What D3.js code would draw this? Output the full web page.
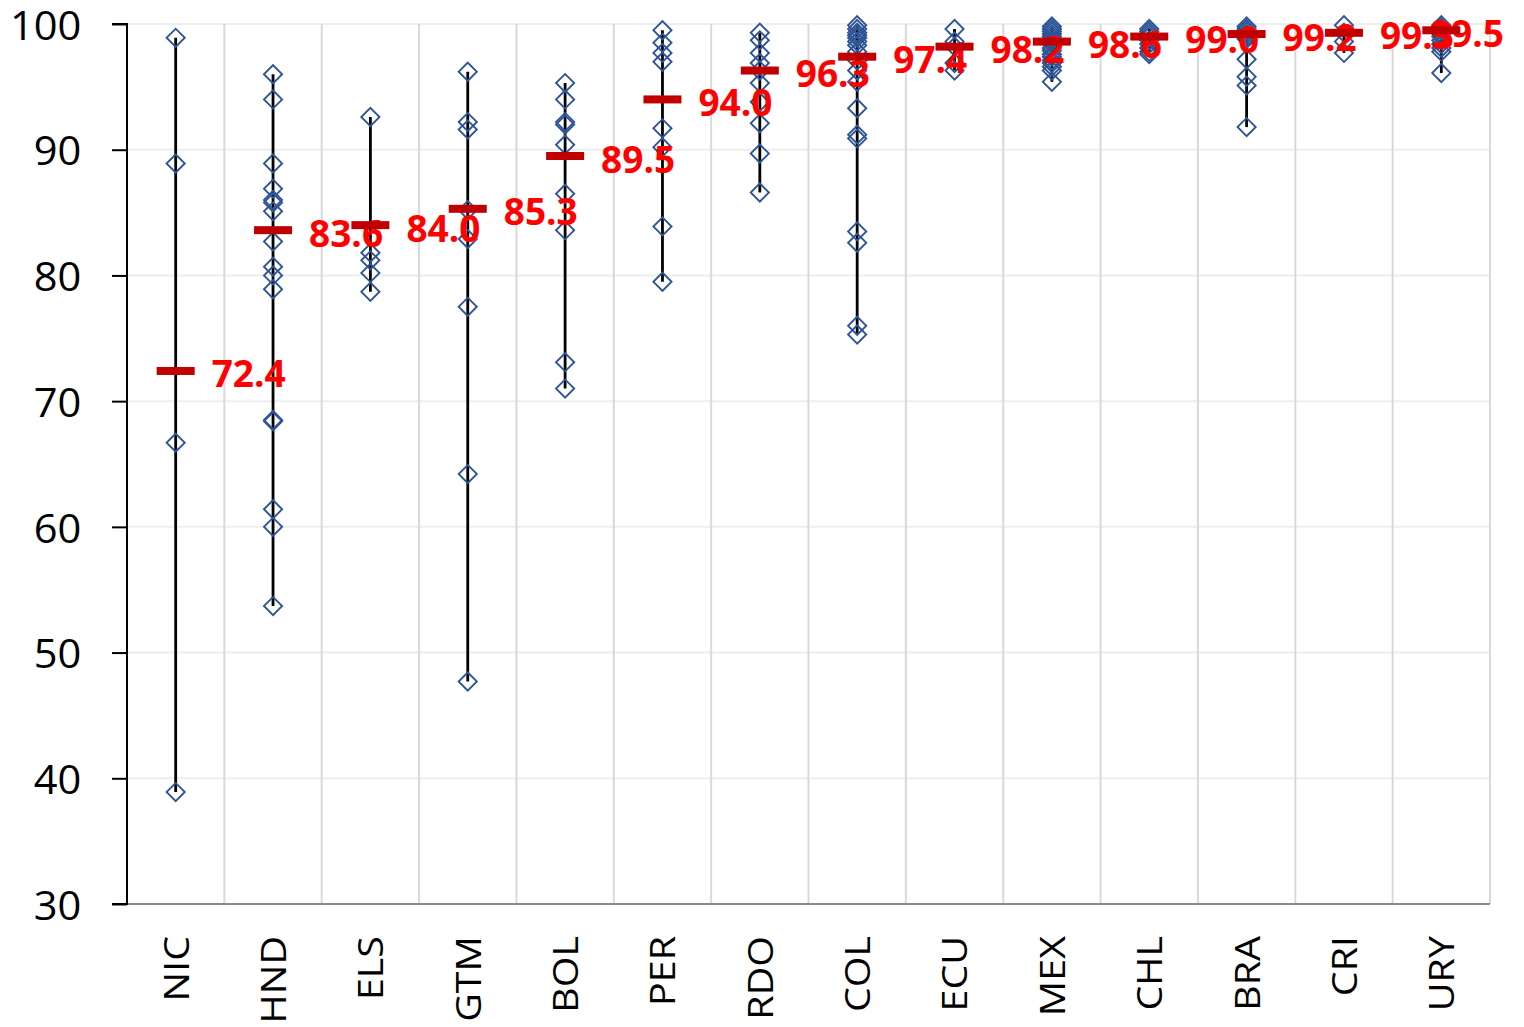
<!DOCTYPE html>
<html>
<head>
<meta charset="utf-8">
<script src="https://cdn.jsdelivr.net/npm/d3@7"></script>
<style>
  html, body { margin: 0; padding: 0; background: #fff; }
  svg { display: block; }
</style>
</head>
<body>
<svg id="chart" width="1524" height="1027"></svg>
<script>
const categories = ["NIC","HND","ELS","GTM","BOL","PER","RDO","COL","ECU","MEX","CHL","BRA","CRI","URY"];
const means = [72.4, 83.6, 84.0, 85.3, 89.5, 94.0, 96.3, 97.4, 98.2, 98.6, 99.0, 99.2, 99.3, 99.5];
const yTicks = [30, 40, 50, 60, 70, 80, 90, 100];

const nicValues = [98.9, 88.9, 66.7, 38.9];
const hndValues = [96.0, 94.0, 88.9, 86.9, 86.0, 85.8, 85.1, 82.7, 80.7, 80.0, 78.9, 68.5, 68.4, 61.4, 60.0, 53.7];
const elsValues = [92.6, 81.8, 81.2, 80.2, 78.7];
const gtmValues = [96.2, 92.2, 91.6, 85.2, 82.9, 77.5, 64.2, 47.7];
const bolValues = [95.3, 94.0, 92.2, 92.0, 90.4, 86.5, 83.6, 73.1, 71.0];
const perValues = [99.5, 98.5, 97.7, 97.0, 91.7, 90.2, 83.9, 79.5];
const rdoValues = [99.3, 98.7, 97.7, 96.9, 96.3, 95.3, 93.8, 92.1, 89.7, 86.6];
const colValues = [99.9, 99.6, 99.3, 99.1, 98.9, 98.6, 98.3, 97.8, 97.1, 96.3, 95.4, 93.3, 91.2, 90.9, 83.5, 82.6, 76.0, 75.3];
const ecuValues = [99.6, 98.6, 98.2, 96.9, 96.3];
const mexValues = [99.8, 99.6, 99.4, 99.2, 99.0, 98.8, 98.6, 98.4, 98.1, 97.9, 97.6, 97.4, 97.1, 96.9, 96.6, 96.3, 95.4];
const chlValues = [99.6, 99.4, 99.2, 99.0, 98.7, 98.4, 98.1, 97.8, 97.6];
const braValues = [99.8, 99.6, 99.4, 99.2, 99.0, 98.8, 97.2, 95.8, 95.1, 91.8];
const criValues = [99.9, 99.3, 98.6, 97.7];
const uryValues = [99.9, 99.7, 99.5, 99.2, 99.0, 98.7, 98.4, 98.1, 97.8, 96.1];

const pointSets = [nicValues, hndValues, elsValues, gtmValues, bolValues, perValues, rdoValues,
  colValues, ecuValues, mexValues, chlValues, braValues, criValues, uryValues];

const rows = categories.map((c, i) => ({ cat: c, mean: means[i], values: pointSets[i] }));

const W = 1524, H = 1027;
const plot = { left: 127, right: 1490, top: 24, bottom: 904 };
const svg = d3.select("#chart");

const x = d3.scaleBand().domain(categories).range([plot.left, plot.right]).padding(0);
const y = d3.scaleLinear().domain([30, 100]).range([plot.bottom, plot.top]);
const cx = c => x(c) + x.bandwidth() / 2;

// horizontal gridlines
svg.append("g").selectAll("line").data(yTicks.filter(t => t > 30)).join("line")
  .attr("x1", plot.left).attr("x2", plot.right)
  .attr("y1", d => y(d)).attr("y2", d => y(d))
  .attr("stroke", "#eeeeee").attr("stroke-width", 2);

// vertical gridlines (category separators)
svg.append("g").selectAll("line").data(categories).join("line")
  .attr("x1", d => x(d) + x.bandwidth()).attr("x2", d => x(d) + x.bandwidth())
  .attr("y1", plot.top).attr("y2", plot.bottom)
  .attr("stroke", "#d9d9d9").attr("stroke-width", 2);

// bottom axis line
svg.append("line").attr("x1", plot.left).attr("x2", plot.right)
  .attr("y1", plot.bottom).attr("y2", plot.bottom)
  .attr("stroke", "#8a8a8a").attr("stroke-width", 2);

// left axis
const yAxis = d3.axisLeft(y).tickValues(yTicks).tickSize(15).tickPadding(28).tickFormat(d3.format("d"));
const yg = svg.append("g").attr("transform", `translate(${plot.left},0)`).call(yAxis);
yg.select(".domain").attr("stroke", "#000").attr("stroke-width", 2).attr("d", `M-15,${plot.top}H0V${plot.bottom}H-15`);
yg.selectAll(".tick line").attr("stroke", "#000").attr("stroke-width", 2);
yg.selectAll(".tick text").attr("font-family", "'Open Sans', sans-serif").attr("font-size", 40)
  .attr("fill", "#000").attr("dy", "0.38em")
  .attr("transform", "translate(-1,0) scale(1.04,1)");

// x labels
const xAxis = d3.axisBottom(x).tickSize(0).tickFormat(d => d);
const xg = svg.append("g").attr("transform", `translate(0,${plot.bottom})`).call(xAxis);
xg.select(".domain").remove();
xg.selectAll(".tick text")
  .attr("font-family", "'Open Sans', sans-serif").attr("font-size", 34).attr("fill", "#000")
  .attr("text-anchor", "end").attr("dominant-baseline", "central")
  .attr("x", 0).attr("y", 0).attr("dy", null)
  .attr("transform", "translate(0,32) rotate(-90) scale(1.16,1)");

// whiskers
svg.append("g").selectAll("line").data(rows).join("line")
  .attr("x1", d => cx(d.cat)).attr("x2", d => cx(d.cat))
  .attr("y1", d => y(d3.max(d.values))).attr("y2", d => y(d3.min(d.values)))
  .attr("stroke", "#000").attr("stroke-width", 2.8);

// diamonds
const diamond = d3.symbol().type(d3.symbolSquare).size(165);
const pts = rows.flatMap(r => r.values.map(v => ({ cat: r.cat, v })));
svg.append("g").selectAll("path").data(pts).join("path")
  .attr("d", diamond)
  .attr("transform", d => `translate(${cx(d.cat)},${y(d.v)}) rotate(45)`)
  .attr("fill", "none").attr("stroke", "#2F5597").attr("stroke-width", 1.9);

// mean labels
const lbl = svg.append("g").selectAll("text").data(rows).join("text")
  .attr("x", d => cx(d.cat) + 36).attr("y", d => y(d.mean) + 2)
  .attr("dominant-baseline", "central")
  .attr("font-family", "'Open Sans', sans-serif").attr("font-weight", "bold").attr("font-size", 37)
  .attr("fill", "#FF0000")
  .text(d => d3.format(".1f")(d.mean));
lbl.each(function () {
  const t = d3.select(this);
  const w = this.getComputedTextLength();
  const x0 = +t.attr("x");
  if (x0 + w > W - 20) t.attr("x", W - 20 - w);
});

// mean dashes
svg.append("g").selectAll("rect").data(rows).join("rect")
  .attr("x", d => cx(d.cat) - 19).attr("width", 38)
  .attr("y", d => y(d.mean) - 4).attr("height", 8)
  .attr("fill", "#C00000");
</script>
</body>
</html>
